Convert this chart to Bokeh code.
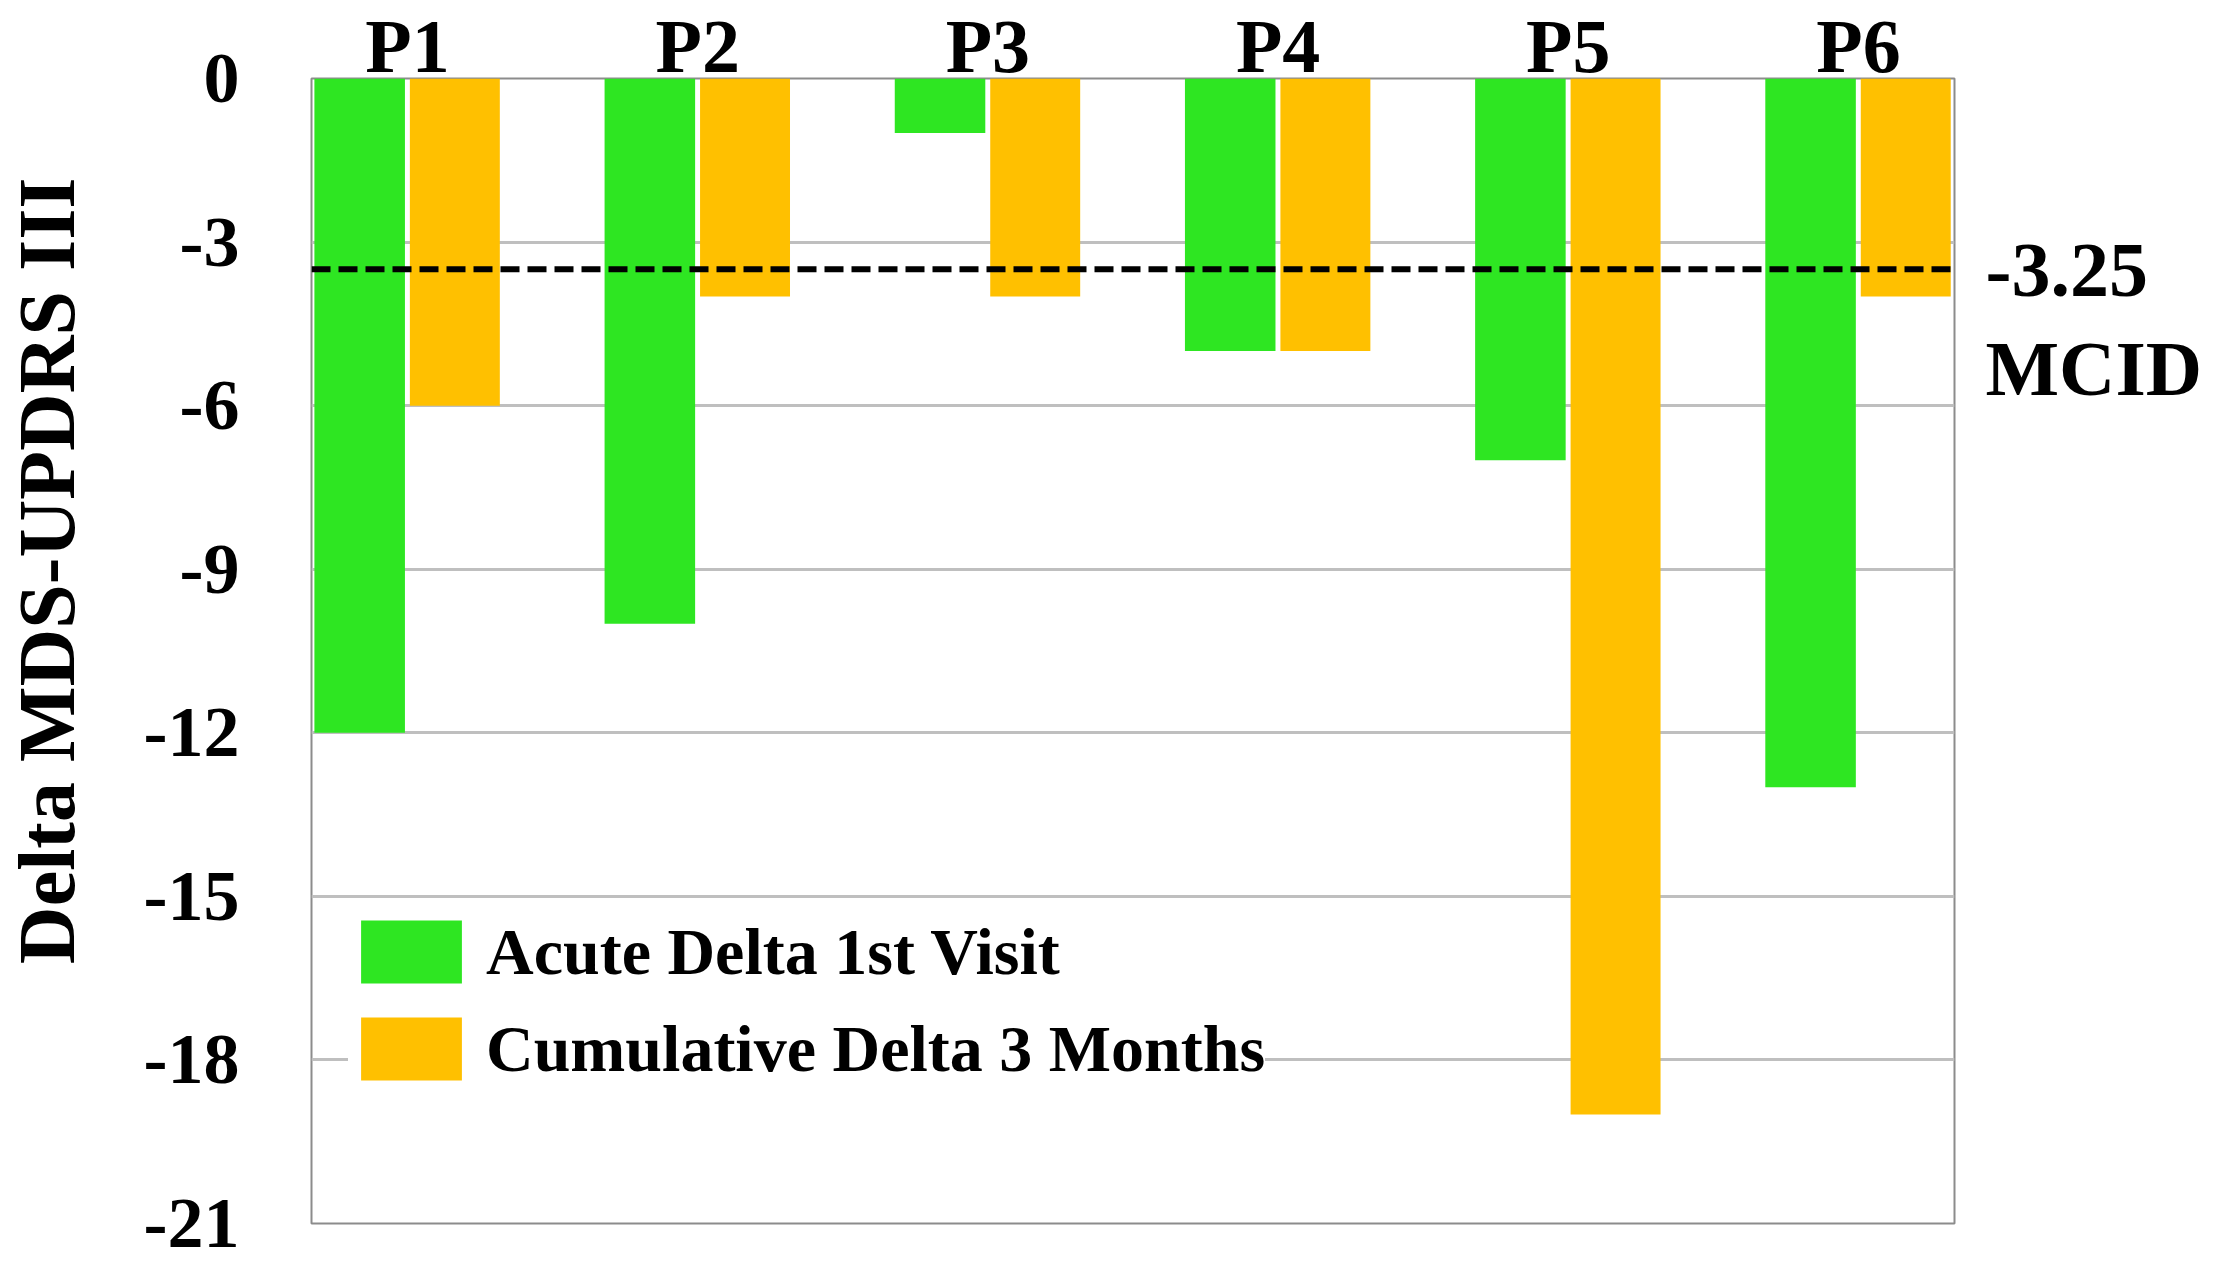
from bokeh.plotting import figure
from bokeh.models import (Range1d, FixedTicker, Span, Legend, LegendItem,
                          ColumnDataSource, LinearAxis, Title)
from bokeh.transform import dodge
from bokeh.embed import file_html
from bokeh.resources import INLINE

# ---- data ----
patients = ["P1", "P2", "P3", "P4", "P5", "P6"]
acute = [-12, -10, -1, -5, -7, -13]
cumulative = [-6, -4, -4, -5, -19, -4]
y_ticks = [0, -3, -6, -9, -12, -15, -18, -21]
y_tick_labels = ["0", "-3", "-6", "-9", "-12", "-15", "-18", "-21"]
series_names = ["Acute Delta 1st Visit", "Cumulative Delta 3 Months"]
y_title = "Delta MDS-UPDRS III"
mcid_line = -3.5          # where the dashed line is drawn in the picture
mcid_texts = ["-3.25", "MCID"]

FONT = "Liberation Serif"
GREEN = "#2EE622"
ORANGE = "#FFC000"

idx = list(range(len(patients)))
src = ColumnDataSource(dict(idx=idx, acute=acute, cumulative=cumulative))

p = figure(width=2253, height=1249, output_backend="svg", toolbar_location=None,
           x_range=Range1d(-0.331, 5.331), y_range=Range1d(-21, 0),
           x_axis_location="above",
           min_border_left=359, min_border_right=246,
           min_border_top=71, min_border_bottom=26)
p.styles = {"margin-left": "-48px"}

p.background_fill_color = "white"
p.border_fill_color = "white"
p.outline_line_color = "#8c8c8c"
p.outline_line_width = 2

r1 = p.vbar(x=dodge("idx", -0.165, range=p.x_range), top="acute", bottom=0,
            width=0.312, source=src, fill_color=GREEN, line_color=None)
r2 = p.vbar(x=dodge("idx", 0.163, range=p.x_range), top="cumulative", bottom=0,
            width=0.31, source=src, fill_color=ORANGE, line_color=None)

# grid
p.xgrid.visible = False
p.ygrid.ticker = FixedTicker(ticks=y_ticks)
p.ygrid.grid_line_color = "#BFBFBF"
p.ygrid.grid_line_width = 3

# y axis
ya = p.yaxis[0]
ya.ticker = FixedTicker(ticks=y_ticks)
ya.major_label_overrides = {t: s for t, s in zip(y_ticks, y_tick_labels)}
ya.major_label_text_font = FONT
ya.major_label_text_font_size = "72px"
ya.major_label_text_font_style = "bold"
ya.major_label_text_color = "black"
ya.major_tick_line_color = None
ya.minor_tick_line_color = None
ya.axis_line_color = None
ya.major_label_standoff = 66

# y title on the left (shifted towards the top, as in the reference)
p.add_layout(Title(text=y_title, align="right", offset=99, standoff=96,
                   vertical_align="top",
                   text_font=FONT, text_font_size="80px", text_font_style="bold",
                   text_color="black"), "left")

# x axis (above)
xa = p.xaxis[0]
xa.ticker = FixedTicker(ticks=idx)
xa.major_label_overrides = {i: name for i, name in zip(idx, patients)}
xa.major_label_text_font = FONT
xa.major_label_text_font_size = "76px"
xa.major_label_text_font_style = "bold"
xa.major_label_text_color = "black"
xa.major_tick_line_color = None
xa.minor_tick_line_color = None
xa.axis_line_color = None
xa.major_label_standoff = -15

# MCID line and annotation (right axis)
p.add_layout(Span(location=mcid_line, dimension="width", line_color="black",
                  line_dash="19 8", line_width=6))
mcid_ticks = [mcid_line, mcid_line - 1.82]
ra = LinearAxis(ticker=FixedTicker(ticks=mcid_ticks),
                major_label_overrides={t: s for t, s in zip(mcid_ticks, mcid_texts)})
ra.major_label_text_font = FONT
ra.major_label_text_font_size = "78px"
ra.major_label_text_font_style = "bold"
ra.major_label_text_color = "black"
ra.major_tick_line_color = None
ra.minor_tick_line_color = None
ra.axis_line_color = None
ra.major_label_standoff = 25
p.add_layout(ra, "right")

# legend
legend = Legend(items=[LegendItem(label=series_names[0], renderers=[r1]),
                       LegendItem(label=series_names[1], renderers=[r2])],
                location=(37, 135), orientation="vertical")
legend.glyph_width = 126
legend.glyph_height = 79
legend.label_standoff = 12
legend.spacing = 18
legend.padding = 10
legend.margin = 0
legend.label_text_font = FONT
legend.label_text_font_size = "66px"
legend.label_text_font_style = "bold"
legend.label_text_color = "black"
legend.background_fill_color = "white"
legend.background_fill_alpha = 1.0
legend.border_line_color = None
p.add_layout(legend)

open("out.html", "w").write(file_html(p, INLINE))
